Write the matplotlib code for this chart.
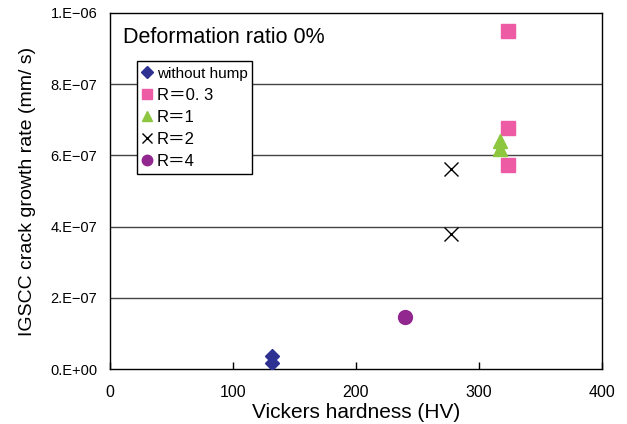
import matplotlib
matplotlib.use("Agg")
import matplotlib.pyplot as plt
from matplotlib.ticker import FixedLocator

plt.rcParams['font.family'] = ['Liberation Sans', 'Noto Sans CJK JP', 'DejaVu Sans']

# Data
hump_x = [132, 132]
hump_y = [3.8e-8, 1.9e-8]
r03_x = [324, 324, 324]
r03_y = [9.5e-7, 6.77e-7, 5.72e-7]
r1_x = [317, 317]
r1_y = [6.4e-7, 6.18e-7]
r2_x = [277, 277]
r2_y = [5.62e-7, 3.79e-7]
r4_x = [240]
r4_y = [1.47e-7]

labels = ["without hump", "R\uff1d0. 3", "R\uff1d1", "R\uff1d2", "R\uff1d4"]
yticks = [0, 2e-7, 4e-7, 6e-7, 8e-7, 1e-6]
ytick_labels = ["0.E+00", "2.E\u221207", "4.E\u221207", "6.E\u221207", "8.E\u221207", "1.E\u221206"]
xticks = [0, 100, 200, 300, 400]

fig = plt.figure(figsize=(6.27, 4.24), dpi=100)
ax = fig.add_axes([0.1754, 0.129, 0.7846, 0.841])

for y in yticks[1:-1]:
    ax.axhline(y, color='#444444', lw=1.0, zorder=1)

ax.plot(hump_x, hump_y, 'D', color='#2E3192', ms=7.5, ls='none', label=labels[0], zorder=3)
ax.plot(r03_x, r03_y, 's', color='#EE5BA5', ms=9.5, ls='none', label=labels[1], zorder=3)
ax.plot(r1_x, r1_y, '^', color='#8DC63F', ms=10, ls='none', label=labels[2], zorder=3)
ax.plot(r2_x, r2_y, 'x', color='black', ms=10, mew=1.0, ls='none', label=labels[3], zorder=3)
ax.plot(r4_x, r4_y, 'o', color='#92278F', ms=10, ls='none', label=labels[4], zorder=3)

ax.set_xlim(0, 400)
ax.set_ylim(0, 1e-6)
ax.xaxis.set_major_locator(FixedLocator(xticks))
ax.set_xticklabels([str(v) for v in xticks], fontsize=11.5)
ax.yaxis.set_major_locator(FixedLocator(yticks))
ax.set_yticklabels(ytick_labels, fontsize=10.5)
ax.tick_params(axis='x', direction='in', length=5, width=1, pad=11)
ax.tick_params(axis='y', length=0, pad=9)
for s in ax.spines.values():
    s.set_linewidth(1.0)
    s.set_color('black')

ax.set_xlabel("Vickers hardness (HV)", fontsize=15, labelpad=2.5)
ax.set_ylabel("IGSCC crack growth rate (mm/ s)", fontsize=14, labelpad=10)

ax.text(0.026, 0.93, "Deformation ratio 0%", transform=ax.transAxes,
        fontsize=15.5, ha='left', va='center')

leg = ax.legend(loc='upper left', bbox_to_anchor=(0.054, 0.865), frameon=True,
                fancybox=False, shadow=False, edgecolor='black', framealpha=1,
                handlelength=0.7, handletextpad=0.2, borderpad=0.3,
                labelspacing=0.42, borderaxespad=0, fontsize=12,
                markerscale=0.75)
leg.get_frame().set_linewidth(1.0)
leg.get_texts()[0].set_fontsize(11)

fig.savefig("out.png", dpi=100)
